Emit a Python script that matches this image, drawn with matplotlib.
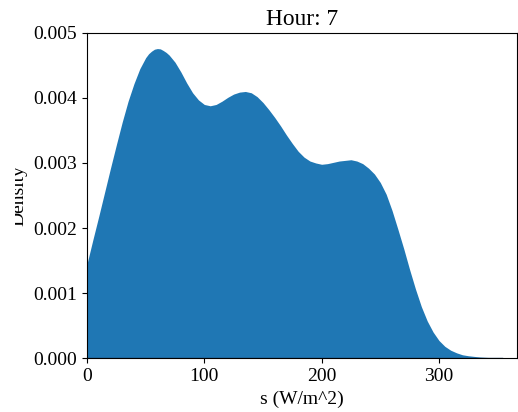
import matplotlib.pyplot as plt
from matplotlib.patches import Rectangle

plt.rcParams['font.family'] = ['Liberation Serif', 'DejaVu Serif']
plt.rcParams['font.size'] = 14

hour = 7

# irradiance grid (W/m^2) and density (x 1e-3)
s_vals = [0, 5, 10, 15, 20, 25, 30, 35, 40, 45, 50, 52.5, 55, 57.5, 60, 62.5, 65,
          67.5, 70, 75, 80, 85, 90, 95, 100, 105, 110, 115, 120, 125, 130, 135,
          140, 145, 150, 155, 160, 165, 170, 175, 180, 185, 190, 195, 200, 205,
          210, 215, 220, 225, 230, 235, 240, 245, 250, 255, 260, 265, 270, 275,
          280, 285, 290, 295, 300, 305, 310, 315, 320, 325, 330, 335, 340, 345,
          350, 354]
dens_e3 = [1.45, 1.82, 2.18, 2.55, 2.92, 3.28, 3.63, 3.95, 4.22, 4.45, 4.62, 4.68,
           4.72, 4.75, 4.76, 4.755, 4.73, 4.70, 4.66, 4.55, 4.40, 4.23, 4.08, 3.97,
           3.90, 3.88, 3.90, 3.95, 4.01, 4.06, 4.09, 4.10, 4.08, 4.02, 3.93, 3.82,
           3.70, 3.57, 3.43, 3.30, 3.18, 3.09, 3.03, 3.00, 2.98, 2.99, 3.01, 3.03,
           3.04, 3.05, 3.03, 2.99, 2.92, 2.83, 2.70, 2.52, 2.27, 1.98, 1.68, 1.36,
           1.06, 0.79, 0.57, 0.40, 0.27, 0.18, 0.12, 0.08, 0.05, 0.035, 0.025,
           0.015, 0.01, 0.005, 0.002, 0.0]
density = [d / 1000 for d in dens_e3]

fig = plt.figure(figsize=(5.18, 4.12), dpi=100)
ax = fig.add_axes([0.168, 0.131, 0.830, 0.789])

ax.fill_between(s_vals, density, 0, color='#1f77b4', linewidth=0)
ax.plot(s_vals, [0] * len(s_vals), color='#1f4e79', linewidth=1)

ax.set_xlim(0, 366.5)
ax.set_ylim(0, 0.005)
ax.set_xticks([0, 100, 200, 300])
ax.set_yticks([0, 0.001, 0.002, 0.003, 0.004, 0.005])
ax.set_yticklabels(['0.000', '0.001', '0.002', '0.003', '0.004', '0.005'])

ax.set_title(f"Hour: {hour}")
ax.set_xlabel("s (W/m^2)")
ax.set_ylabel("Density")

# the original panel was cropped just left of the y label
fig.patches.append(Rectangle((0, 0), 15 / 518, 1, transform=fig.transFigure,
                             facecolor='white', edgecolor='none', zorder=10))

fig.savefig("out.png", dpi=100)
